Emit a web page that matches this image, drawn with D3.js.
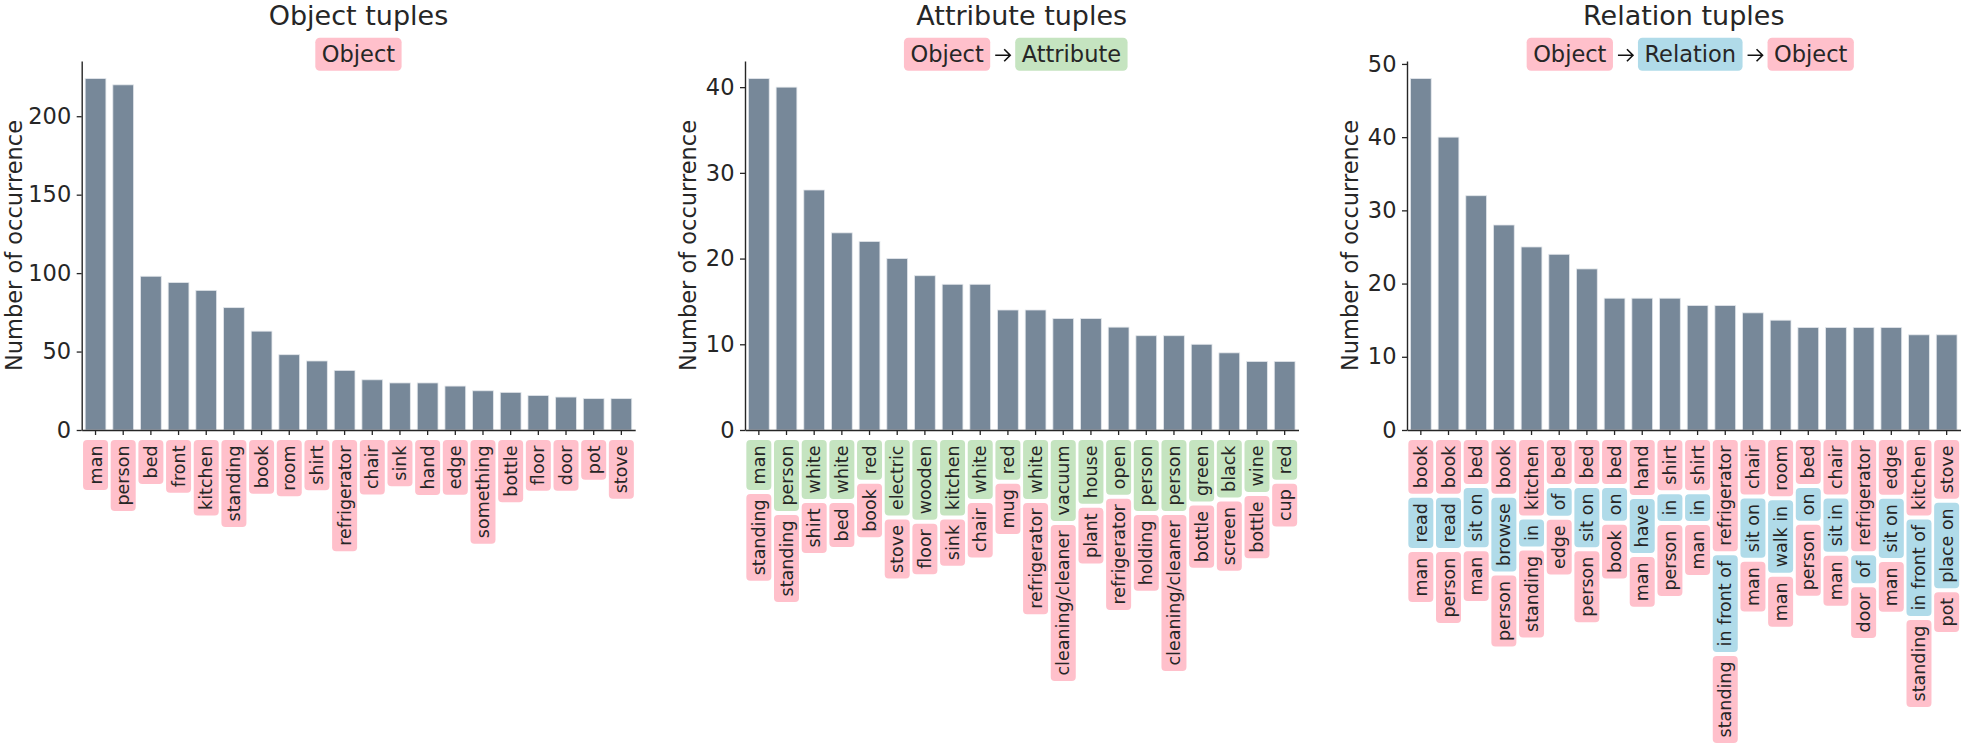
<!DOCTYPE html>
<html><head><meta charset="utf-8">
<script src="https://cdn.jsdelivr.net/npm/d3@7"></script>
<style>
body{margin:0;background:#fff}
svg{display:block}
text{font-family:"DejaVu Sans",sans-serif;fill:#262626}
</style>
</head><body>
<svg id="chart" width="1961" height="745"></svg>
<script>
// ---------- data ----------
const panelTitles = ["Object tuples", "Attribute tuples", "Relation tuples"];

const objectLabels = ["man","person","bed","front","kitchen","standing","book","room","shirt","refrigerator",
  "chair","sink","hand","edge","something","bottle","floor","door","pot","stove"];
const objectCounts = [224,220,98,94,89,78,63,48,44,38,32,30,30,28,25,24,22,21,20,20];
const objectTicks = [0,50,100,150,200];

const attrTop = ["man","person","white","white","red","electric","wooden","kitchen","white","red",
  "white","vacuum","house","open","person","person","green","black","wine","red"];
const attrBottom = ["standing","standing","shirt","bed","book","stove","floor","sink","chair","mug",
  "refrigerator","cleaning/cleaner","plant","refrigerator","holding","cleaning/cleaner","bottle","screen","bottle","cup"];
const attrCounts = [41,40,28,23,22,20,18,17,17,14,14,13,13,12,11,11,10,9,8,8];
const attrTicks = [0,10,20,30,40];

const relTop = ["book","book","bed","book","kitchen","bed","bed","bed","hand","shirt",
  "shirt","refrigerator","chair","room","bed","chair","refrigerator","edge","kitchen","stove"];
const relMiddle = ["read","read","sit on","browse","in","of","sit on","on","have","in",
  "in","in front of","sit on","walk in","on","sit in","of","sit on","in front of","place on"];
const relBottom = ["man","person","man","person","standing","edge","person","book","man","person",
  "man","standing","man","man","person","man","door","man","standing","pot"];
const relCounts = [48,40,32,28,25,24,22,18,18,18,17,17,16,15,14,14,14,14,13,13];
const relTicks = [0,10,20,30,40,50];

// ---------- style / layout ----------
const PINK = "#ffc0cb", GREEN = "#c5e4c0", BLUE = "#b0dbe9";
const BAR = "#778899", INK = "#262626";
const plotLefts = [81.7, 745, 1407];
const headerShift = [0, -6, 6.5];
const plotW = 553.5, plotTop = 61, plotBottom = 430;
const tickFont = 22.5, titleFont = 27, tagFont = 22.5, labFont = 17.5;

const svg = d3.select("#chart");

const panels = [
  {title: panelTitles[0], header: [["Object", PINK]], counts: objectCounts, ticks: objectTicks,
   stacks: objectLabels.map(l => [[l, PINK]])},
  {title: panelTitles[1], header: [["Object", PINK], ["Attribute", GREEN]], counts: attrCounts, ticks: attrTicks,
   stacks: attrTop.map((t, i) => [[t, GREEN], [attrBottom[i], PINK]])},
  {title: panelTitles[2], header: [["Object", PINK], ["Relation", BLUE], ["Object", PINK]], counts: relCounts, ticks: relTicks,
   stacks: relTop.map((t, i) => [[t, PINK], [relMiddle[i], BLUE], [relBottom[i], PINK]])}
];

panels.forEach((p, pi) => {
  const left = plotLefts[pi];
  const g = svg.append("g");
  const n = p.counts.length;
  const x = d3.scaleBand().domain(d3.range(n)).range([left, left + plotW]).paddingInner(0).paddingOuter(0);
  const y = d3.scaleLinear().domain([0, d3.max(p.counts) * 1.05]).range([plotBottom, plotTop]);
  const bw = x.bandwidth();

  // bars
  g.selectAll("rect.bar").data(p.counts).join("rect")
    .attr("class", "bar")
    .attr("x", (d, i) => x(i) + bw * 0.125)
    .attr("width", bw * 0.75)
    .attr("y", d => y(d))
    .attr("height", d => y(0) - y(d))
    .attr("fill", BAR)
    .attr("stroke", "#e3e7eb").attr("stroke-width", 0.8);

  // y axis
  const ya = g.append("g").attr("transform", `translate(${left},0)`)
    .call(d3.axisLeft(y).tickValues(p.ticks).tickSize(5).tickSizeOuter(0).tickPadding(5.5).tickFormat(d3.format("d")));
  ya.select(".domain").attr("stroke", INK).attr("stroke-width", 1.4);
  ya.selectAll(".tick line").attr("stroke", INK).attr("stroke-width", 1.3);
  ya.selectAll(".tick text").attr("font-size", tickFont).attr("font-family", "DejaVu Sans").attr("fill", INK);
  let maxW = 0;
  ya.selectAll(".tick text").each(function(){ maxW = Math.max(maxW, this.getComputedTextLength()); });

  // x axis
  const xa = g.append("g").attr("transform", `translate(0,${plotBottom})`)
    .call(d3.axisBottom(x).tickSize(5).tickSizeOuter(0).tickFormat(""));
  xa.select(".domain").attr("stroke", INK).attr("stroke-width", 1.4);
  xa.selectAll(".tick line").attr("stroke", INK).attr("stroke-width", 1.3);

  // y label (kept inside the page edge)
  const ylx = Math.max(22, left - 5 - 5.5 - maxW - 9.5);
  g.append("text").attr("transform", `translate(${ylx},${(plotTop + plotBottom) / 2}) rotate(-90)`)
    .attr("text-anchor", "middle").attr("font-size", tickFont).text("Number of occurrence");

  // title
  const cx = left + plotW / 2;
  g.append("text").attr("x", cx).attr("y", 25).attr("text-anchor", "middle")
    .attr("font-size", titleFont).text(p.title);

  // header tags
  const tagG = g.append("g");
  const tagPad = 6.5, tagH = 33, tagCy = 54.3, arrowW = 15, arrowGap = 5;
  let cur = 0;
  const items = [];
  p.header.forEach((h, hi) => {
    if (hi > 0) { items.push({type: "arrow", x: cur + arrowGap}); cur += arrowGap * 2 + arrowW; }
    const t = tagG.append("text").attr("font-size", tagFont).attr("text-anchor", "middle")
      .attr("dy", "0.35em").text(h[0]);
    const w = t.node().getComputedTextLength() + tagPad * 2;
    items.push({type: "tag", x: cur, w, node: t, color: h[1]});
    cur += w;
  });
  const x0 = cx + headerShift[pi] - cur / 2;
  items.forEach(it => {
    if (it.type === "tag") {
      tagG.insert("rect", "text").attr("x", x0 + it.x).attr("y", tagCy - tagH / 2)
        .attr("width", it.w).attr("height", tagH).attr("rx", 4.5).attr("fill", it.color);
      it.node.attr("x", x0 + it.x + it.w / 2).attr("y", tagCy);
    } else {
      const ax = x0 + it.x;
      tagG.append("path")
        .attr("d", `M${ax},${tagCy + 1} H${ax + arrowW} M${ax + arrowW - 6},${tagCy - 5} L${ax + arrowW},${tagCy + 1} L${ax + arrowW - 6},${tagCy + 7}`)
        .attr("fill", "none").attr("stroke", "#111").attr("stroke-width", 1.6);
    }
  });

  // tuple labels under the x axis
  const boxW = 25, pad = 5.5, gap = 4;
  p.stacks.forEach((stack, i) => {
    const bx = x(i) + bw / 2;
    let yc = plotBottom + 10;
    stack.forEach(([label, color]) => {
      const rect = g.append("rect");
      const t = g.append("text").attr("font-size", labFont).attr("text-anchor", "middle")
        .attr("dy", "0.35em").text(label);
      const len = t.node().getComputedTextLength();
      const h = len + pad * 2;
      rect.attr("x", bx - boxW / 2).attr("y", yc).attr("width", boxW).attr("height", h)
        .attr("rx", 4).attr("fill", color);
      t.attr("transform", `translate(${bx},${yc + h / 2}) rotate(-90)`);
      yc += h + gap;
    });
  });
});
</script>
</body></html>
